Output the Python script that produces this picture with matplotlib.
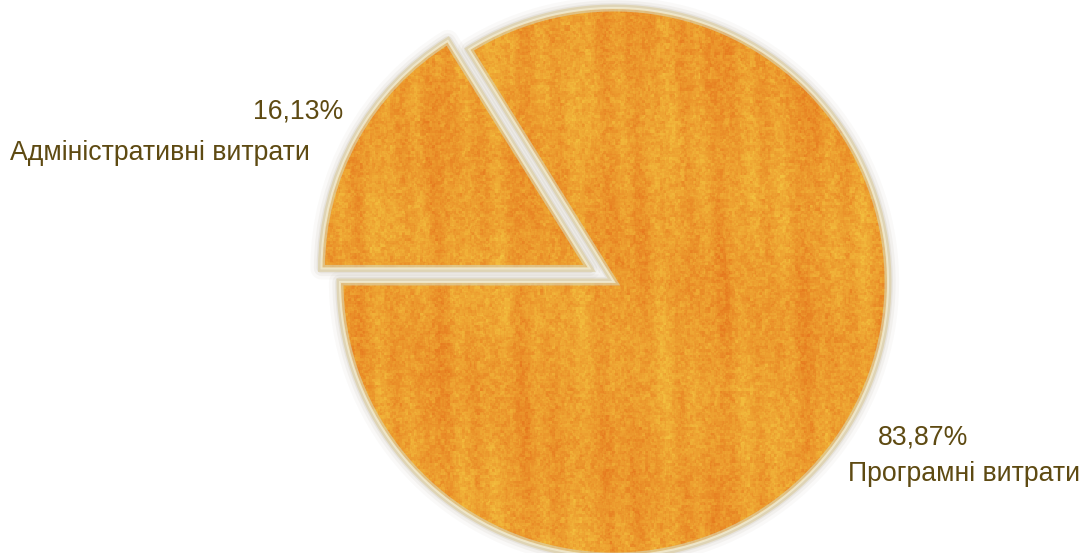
import numpy as np
import matplotlib.pyplot as plt
from matplotlib.colors import to_rgb
from matplotlib.patches import PathPatch

# data
labels = ["Адміністративні витрати", "Програмні витрати"]
shares = [16.13, 83.87]
pct_text = ["16,13%", "83,87%"]

plt.rcParams["font.family"] = ["Liberation Sans", "DejaVu Sans"]

W, H = 1090, 553
fig = plt.figure(figsize=(W / 100, H / 100), dpi=100)
ax = fig.add_axes([0, 0, 1, 1])

cx, cy, r = 614, 271, 274

wedges, _ = ax.pie(shares, startangle=180, counterclock=False,
                   explode=[28, 0], center=(cx, cy), radius=r,
                   colors=["none", "none"], frame=True,
                   wedgeprops=dict(linewidth=0))
wedges[0].set_radius(268)

# orange paper-like texture: vertical streaks plus blotchy grain (hash pattern)
yy, xx = np.mgrid[0:H, 0:W].astype(float)
def hashed(a, b, s1, s2, k):
    return np.modf(np.abs(np.sin(a * s1 + b * s2)) * k)[0]
g1 = hashed(np.floor(xx / 3), np.floor(yy / 3), 12.9898, 78.233, 43758.5453)
g2 = hashed(np.floor(xx / 2), np.floor(yy / 2), 39.346, 11.135, 24634.6345)
g3 = hashed(np.floor(xx / 5), np.floor(yy / 6), 7.13, 91.7, 15731.743)
t = (0.48
     + 0.12 * np.sin(xx / 9.0) * np.sin(xx / 23.0 + 1.3)
     + 0.05 * np.sin(xx / 4.1 + yy / 60.0)
     + 0.06 * np.sin(yy / 37.0 + xx / 71.0)
     + 0.22 * (g1 - 0.5)
     + 0.16 * (g2 - 0.5)
     + 0.18 * (g3 - 0.5))
t = np.clip(t, 0, 1)[..., None]
c_or = np.array(to_rgb("#E5741C"))
c_ye = np.array(to_rgb("#F5CA44"))
tex = c_or * (1 - t) + c_ye * t

for w in wedges:
    path = w.get_path()
    tr = w.get_transform()
    # soft shadow round the slice
    for lw, a in [(16, 0.035), (11, 0.06), (7, 0.09)]:
        ax.add_patch(PathPatch(path, transform=tr, fill=False,
                               edgecolor="#7a6a45", linewidth=lw, alpha=a,
                               joinstyle="round", zorder=1))
    im = ax.imshow(tex, extent=(0, W, 0, H), origin="lower", zorder=2,
                   interpolation="bilinear")
    im.set_clip_path(w)
    # light bevel rim
    ax.add_patch(PathPatch(path, transform=tr, fill=False,
                           edgecolor="#DCCFA4", linewidth=5, alpha=0.7,
                           joinstyle="miter", zorder=3))
    ax.add_patch(PathPatch(path, transform=tr, fill=False,
                           edgecolor="#F3ECD2", linewidth=1.5, alpha=0.8,
                           joinstyle="miter", zorder=3))

ax.set_xlim(0, W)
ax.set_ylim(0, H)
ax.axis("off")

tc = "#5E4A12"
fs = 19.2
ax.text(343, H - 112, pct_text[0], ha="right", va="center", fontsize=fs, color=tc)
ax.text(10, H - 153, labels[0], ha="left", va="center", fontsize=fs, color=tc)
ax.text(968, H - 437, pct_text[1], ha="right", va="center", fontsize=fs, color=tc)
ax.text(848, H - 474, labels[1], ha="left", va="center", fontsize=fs, color=tc)

fig.savefig("out.png", dpi=100, facecolor="white")
